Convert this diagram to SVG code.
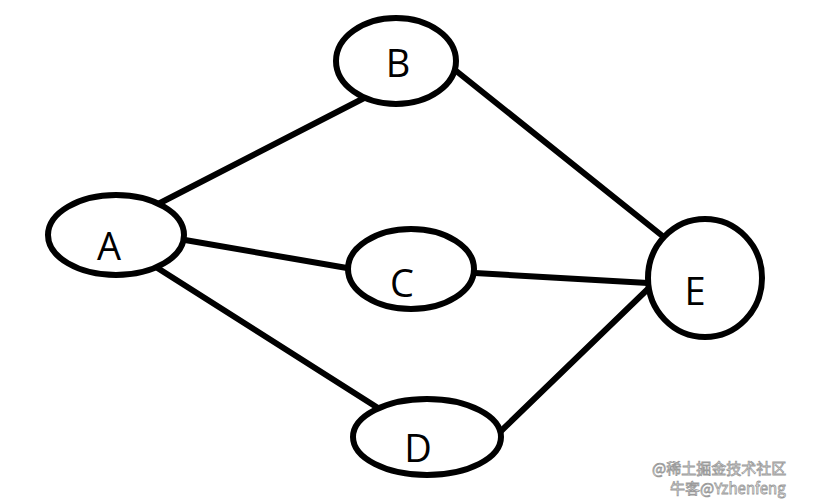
<svg xmlns="http://www.w3.org/2000/svg" width="817" height="502" viewBox="0 0 817 502">
<style>
.n{fill:#fff;stroke:#000;stroke-width:6}
.e{stroke:#000;stroke-width:6;stroke-linecap:round;fill:none}
.t{font-family:"Open Sans","Noto Sans",sans-serif;font-size:38px;fill:#000;text-anchor:middle}
.w{font-family:"Noto Sans CJK SC","Noto Sans",sans-serif;font-size:15px;fill:#fff;stroke:#9a9a9a;stroke-width:0.8}
</style>
<rect width="817" height="502" fill="#fff"/>
<g id="edges">
<line class="e" x1="160" y1="203" x2="370" y2="95"/>
<line class="e" x1="185" y1="240" x2="347" y2="268"/>
<line class="e" x1="148" y1="262" x2="378" y2="408"/>
<line class="e" x1="455" y1="70" x2="665" y2="238"/>
<line class="e" x1="475" y1="273" x2="648" y2="283"/>
<line class="e" x1="500" y1="432" x2="652" y2="285"/>
</g>
<g id="A"><ellipse class="n" cx="116" cy="235" rx="68" ry="40"/><text class="t" x="109" y="260">A</text></g>
<g id="B"><ellipse class="n" cx="396" cy="61" rx="60" ry="43"/><text class="t" x="398" y="77">B</text></g>
<g id="C"><ellipse class="n" cx="411" cy="269" rx="63" ry="40"/><text class="t" x="402" y="297">C</text></g>
<g id="D"><ellipse class="n" cx="427" cy="437" rx="74" ry="38"/><text class="t" x="418" y="462">D</text></g>
<g id="E"><ellipse class="n" cx="705" cy="278" rx="57" ry="59"/><text class="t" x="695" y="305">E</text></g>
<g id="watermark">
<text class="w" x="652" y="474">@稀土掘金技术社区</text>
<text class="w" x="670" y="494">牛客@Yzhenfeng</text>
</g>
</svg>
